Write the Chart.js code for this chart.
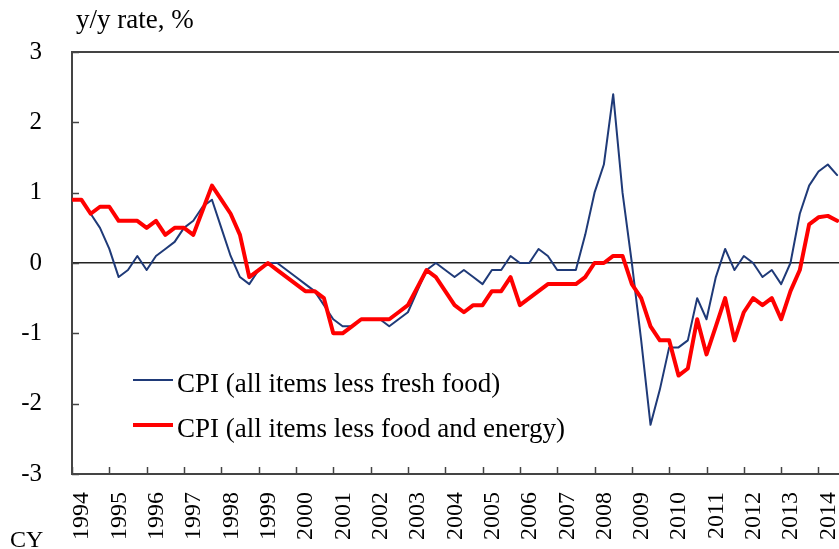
<!DOCTYPE html>
<html>
<head>
<meta charset="utf-8">
<script src="https://cdn.jsdelivr.net/npm/chart.js@4/dist/chart.umd.min.js"></script>
<style>
html,body{margin:0;padding:0;background:#fff;}
canvas{display:block;}
</style>
</head>
<body>
<canvas id="c" width="839" height="549"></canvas>
<script>
// ---- data (quarterly, starting 1994 Q1) ----
const startYear = 1994;
const yearLabels = ['1994','1995','1996','1997','1998','1999','2000','2001','2002','2003','2004','2005','2006','2007','2008','2009','2010','2011','2012','2013','2014'];
const yTickLabels = ['-3','-2','-1','0','1','2','3'];
const seriesNames = ['CPI (all items less fresh food)', 'CPI (all items less food and energy)'];
const cpiLessFreshFood = [
  0.9, 0.9, 0.7, 0.5, 0.2, -0.2, -0.1, 0.1, -0.1, 0.1, 0.2, 0.3, 0.5, 0.6, 0.8, 0.9,
  0.5, 0.1, -0.2, -0.3, -0.1, 0.0, 0.0, -0.1, -0.2, -0.3, -0.4, -0.6, -0.8, -0.9, -0.9, -0.8,
  -0.8, -0.8, -0.9, -0.8, -0.7, -0.4, -0.1, 0.0, -0.1, -0.2, -0.1, -0.2, -0.3, -0.1, -0.1, 0.1,
  0.0, 0.0, 0.2, 0.1, -0.1, -0.1, -0.1, 0.4, 1.0, 1.4, 2.4, 1.0, 0.0, -1.1, -2.3, -1.8,
  -1.2, -1.2, -1.1, -0.5, -0.8, -0.2, 0.2, -0.1, 0.1, 0.0, -0.2, -0.1, -0.3, 0.0, 0.7, 1.1,
  1.3, 1.4, 1.25
];
const cpiLessFoodEnergy = [
  0.9, 0.9, 0.7, 0.8, 0.8, 0.6, 0.6, 0.6, 0.5, 0.6, 0.4, 0.5, 0.5, 0.4, 0.75, 1.1,
  0.9, 0.7, 0.4, -0.2, -0.1, 0.0, -0.1, -0.2, -0.3, -0.4, -0.4, -0.5, -1.0, -1.0, -0.9, -0.8,
  -0.8, -0.8, -0.8, -0.7, -0.6, -0.35, -0.1, -0.2, -0.4, -0.6, -0.7, -0.6, -0.6, -0.4, -0.4, -0.2,
  -0.6, -0.5, -0.4, -0.3, -0.3, -0.3, -0.3, -0.2, 0.0, 0.0, 0.1, 0.1, -0.3, -0.5, -0.9, -1.1,
  -1.1, -1.6, -1.5, -0.8, -1.3, -0.9, -0.5, -1.1, -0.7, -0.5, -0.6, -0.5, -0.8, -0.4, -0.1, 0.55,
  0.65, 0.67, 0.6
];

const toPoints = arr => arr.map((v, i) => ({ x: startYear + i / 4, y: v }));

const SERIF = '"Liberation Serif", "Times New Roman", serif';
const AXIS_COLOR = '#444';

const overlayPlugin = {
  id: 'overlay',
  afterDraw(chart) {
    const ctx = chart.ctx;
    const xs = chart.scales.x, ys = chart.scales.y;
    const area = chart.chartArea;
    ctx.save();
    // inward tick marks
    ctx.strokeStyle = AXIS_COLOR;
    ctx.lineWidth = 1.5;
    xs.ticks.forEach(t => {
      const px = Math.round(xs.getPixelForValue(t.value)) + 0.5;
      ctx.beginPath();
      ctx.moveTo(px, area.bottom);
      ctx.lineTo(px, area.bottom - 7);
      ctx.stroke();
    });
    ys.ticks.forEach(t => {
      const py = Math.round(ys.getPixelForValue(t.value)) + 0.5;
      ctx.beginPath();
      ctx.moveTo(area.left, py);
      ctx.lineTo(area.left + 7, py);
      ctx.stroke();
    });
    // texts
    ctx.fillStyle = '#000';
    ctx.textAlign = 'left';
    ctx.textBaseline = 'alphabetic';
    ctx.font = '27px ' + SERIF;
    ctx.fillText('y/y rate, %', 76, 28);
    ctx.font = '24px ' + SERIF;
    ctx.fillText('CY', 10, 547);
    // legend
    const legendY = [380, 425];
    chart.data.datasets.forEach((ds, i) => {
      const y = legendY[i];
      ctx.strokeStyle = ds.borderColor;
      ctx.lineWidth = ds.borderWidth;
      ctx.lineCap = 'butt';
      ctx.beginPath();
      ctx.moveTo(133, y);
      ctx.lineTo(173, y);
      ctx.stroke();
      ctx.fillStyle = '#000';
      ctx.font = '27px ' + SERIF;
      ctx.fillText(ds.label, 177, y + 12);
    });
    ctx.restore();
  }
};

new Chart(document.getElementById('c'), {
  type: 'line',
  data: {
    datasets: [
      {
        label: seriesNames[0],
        data: toPoints(cpiLessFreshFood),
        borderColor: '#1f3a78',
        borderWidth: 2,
        pointRadius: 0,
        tension: 0,
        borderJoinStyle: 'round',
        borderCapStyle: 'round',
        order: 1
      },
      {
        label: seriesNames[1],
        data: toPoints(cpiLessFoodEnergy),
        borderColor: '#ff0000',
        borderWidth: 4,
        pointRadius: 0,
        tension: 0,
        borderJoinStyle: 'round',
        borderCapStyle: 'round',
        order: 0
      }
    ]
  },
  options: {
    responsive: false,
    animation: false,
    layout: { padding: { top: 52, right: 0, left: 0, bottom: 0 } },
    plugins: { legend: { display: false }, tooltip: { enabled: false }, title: { display: false } },
    scales: {
      x: {
        type: 'linear',
        min: startYear,
        max: 2014.55,
        afterFit(scale) { scale.height = 75; scale.paddingRight = 0; scale.paddingLeft = 0; },
        afterBuildTicks(scale) {
          scale.ticks = yearLabels.map(l => ({ value: Number(l) }));
        },
        grid: { display: false, drawTicks: false },
        border: { display: true, color: AXIS_COLOR, width: 2 },
        ticks: {
          autoSkip: false,
          minRotation: 90,
          maxRotation: 90,
          padding: 18,
          labelOffset: 10,
          color: '#000',
          font: { family: SERIF, size: 24 },
          callback: (v) => {
            const idx = yearLabels.indexOf(String(v));
            return idx >= 0 ? yearLabels[idx] : '';
          }
        }
      },
      y: {
        min: -3,
        max: 3,
        afterFit(scale) { scale.width = 72; scale.paddingTop = 0; scale.paddingBottom = 0; },
        afterBuildTicks(scale) {
          scale.ticks = yTickLabels.map(l => ({ value: Number(l) }));
        },
        grid: {
          drawTicks: false,
          color: ctx => (ctx.tick && (ctx.tick.value === 0 || ctx.tick.value === 3)) ? (ctx.tick.value === 0 ? '#222' : AXIS_COLOR) : 'rgba(0,0,0,0)',
          lineWidth: ctx => (ctx.tick && ctx.tick.value === 3) ? 2 : 1.5
        },
        border: { display: true, color: AXIS_COLOR, width: 2 },
        ticks: {
          padding: 30,
          color: '#000',
          font: { family: SERIF, size: 25 },
          callback: (v) => {
            const idx = yTickLabels.indexOf(String(v));
            return idx >= 0 ? yTickLabels[idx] : '';
          }
        }
      }
    }
  },
  plugins: [overlayPlugin]
});
</script>
</body>
</html>
